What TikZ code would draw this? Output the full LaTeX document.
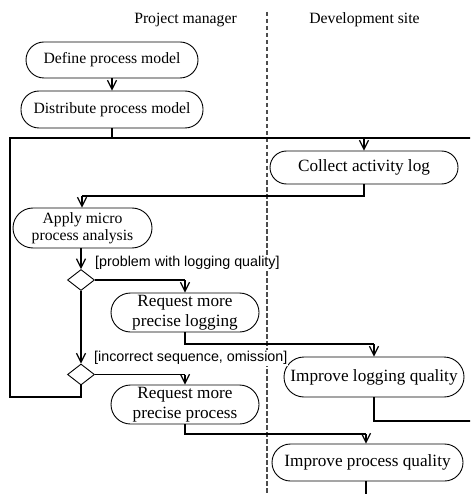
\documentclass[tikz,border=0pt]{standalone}
\usepackage{fontspec}
\setmainfont{Liberation Serif}
\newfontfamily\labelfont{Liberation Sans}
\usetikzlibrary{shapes.geometric,arrows.meta}
\begin{document}
\begin{tikzpicture}[x=1pt,y=-1pt,
  act/.style={draw, rectangle, rounded corners=18pt, inner sep=0pt, align=center, line width=0.9pt},
  smallfont/.style={font=\fontsize{15.7}{17.5}\selectfont},
  bigfont/.style={font=\fontsize{17.2}{19.5}\selectfont},
  dec/.style={draw, diamond, inner sep=0pt, minimum width=27pt, minimum height=21pt, line width=0.9pt},
  flow/.style={line width=1.2pt},
  arr/.style={line width=1.2pt, -{Straight Barb[length=9pt,width=9pt,line width=1.2pt]}},
  guard/.style={font=\labelfont\fontsize{14.3}{15}\selectfont, fill=white, inner sep=1pt, anchor=west},
  lane/.style={dash pattern=on 4.5pt off 2.5pt, line width=1.2pt, black!70}
]
\useasboundingbox (0,0) rectangle (470,494);
\clip (0,0) rectangle (470,494);
\fill[white] (0,0) rectangle (470,494);

% swimlane
\coordinate (laneTop) at (267,12);
\coordinate (laneBot) at (267,500);
\draw[lane] (laneTop) -- (laneBot);
\node[font=\fontsize{15.7}{17}\selectfont] (pm) at (185.5,20) {Project manager};
\node[font=\fontsize{15.7}{17}\selectfont] (ds) at (364.5,20) {Development site};

% nodes
\node[act, smallfont, minimum width=172pt, minimum height=36pt] (def) at (112,60) {Define process model};
\node[act, smallfont, minimum width=182pt, minimum height=37pt] (dist) at (112,109.5) {Distribute process model};
\node[act, bigfont, minimum width=188pt, minimum height=33pt, rounded corners=16.5pt] (coll) at (364,167.5) {Collect activity log};
\node[act, smallfont, minimum width=139pt, minimum height=40pt, rounded corners=20pt] (apply) at (82.5,228) {Apply micro\\process analysis};
\node[dec] (d1) at (81,280) {};
\node[dec] (d2) at (81,374.5) {};
\node[act, bigfont, minimum width=148pt, minimum height=39pt, rounded corners=19.5pt] (reqlog) at (185,312.5) {Request more\\precise logging};
\node[act, bigfont, minimum width=148pt, minimum height=39pt, rounded corners=19.5pt] (reqproc) at (185,404.5) {Request more\\precise process};
\node[act, bigfont, minimum width=180pt, minimum height=40pt, rounded corners=20pt] (implog) at (374,377) {Improve logging quality};
\node[act, bigfont, minimum width=191pt, minimum height=37pt, rounded corners=18.5pt] (impproc) at (367.5,462.5) {Improve process quality};

% guard labels
\node[guard] (g1) at (94,263) {[problem with logging quality]};
\node[guard] (g2) at (93,358) {[incorrect sequence, omission]};

% helper coordinates
\coordinate (j0) at (364,138);
\coordinate (ja) at (112,138);
\coordinate (jl1) at (10,138);
\coordinate (jl2) at (10,397);
\coordinate (jd2) at (81,397);
\coordinate (jr1) at (480,138);
\coordinate (jr2) at (480,421);
\coordinate (jil) at (374,421);
\coordinate (jc1) at (364,196);
\coordinate (jc2) at (82,196);
\coordinate (jb1) at (185,280);
\coordinate (jb2) at (185,344);
\coordinate (jb3) at (374,344);
\coordinate (jp1) at (185,374.5);
\coordinate (jp2) at (185,434);
\coordinate (jp3) at (366,434);
\coordinate (jend) at (366,500);

% connectors
\draw[arr] (def) -- (dist);
\draw[flow] (dist.south) -- (ja);
\draw[flow] (d2.south) -- (jd2) -- (jl2) -- (jl1) -- (j0);
\draw[flow] (implog.south -| jil) -- (jil) -- (jr2) -- (jr1) -- (j0);
\draw[arr] (j0) -- (coll.north -| j0);
\draw[flow] (coll.south -| jc1) -- (jc1) -- (jc2);
\draw[arr] (jc2) -- (apply.north -| jc2);
\draw[arr] (apply.south -| d1) -- (d1.north);
\draw[flow] (d1.east) -- (jb1);
\draw[arr] (jb1) -- (reqlog.north -| jb1);
\draw[arr] (d1.south) -- (d2.north);
\draw[flow] (reqlog.south -| jb2) -- (jb2) -- (jb3);
\draw[arr] (jb3) -- (implog.north -| jb3);
\draw[flow] (d2.east) -- (jp1);
\draw[arr] (jp1) -- (reqproc.north -| jp1);
\draw[flow] (reqproc.south -| jp2) -- (jp2) -- (jp3);
\draw[arr] (jp3) -- (impproc.north -| jp3);
\draw[flow] (impproc.south -| jend) -- (jend);
\end{tikzpicture}
\end{document}
